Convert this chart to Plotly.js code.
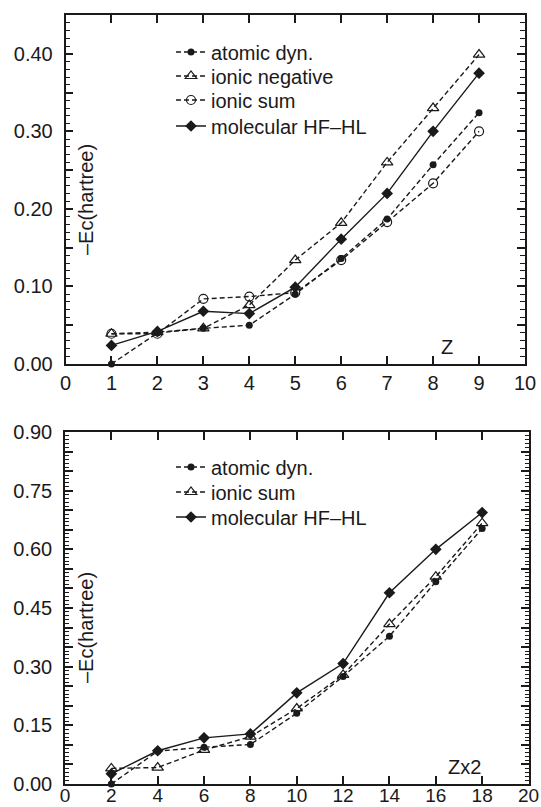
<!DOCTYPE html>
<html>
<head>
<meta charset="utf-8">
<script src="https://cdn.plot.ly/plotly-3.0.1.min.js"></script>
<style>
  html, body { margin: 0; padding: 0; background: #fff; }
  #chart { width: 541px; height: 807px; }
</style>
</head>
<body>
<div id="chart"></div>
<script>
// ---- Data: top panel (Z) ----
const zTop = [1, 2, 3, 4, 5, 6, 7, 8, 9];
const atomicTop = [0.000, 0.040, 0.046, 0.050, 0.090, 0.136, 0.187, 0.257, 0.324];
const ionicNegTop = [0.039, 0.041, 0.046, 0.076, 0.134, 0.182, 0.260, 0.330, 0.399];
const ionicSumTop = [0.039, 0.039, 0.084, 0.087, 0.092, 0.134, 0.183, 0.233, 0.300];
const molTop = [0.024, 0.042, 0.068, 0.065, 0.099, 0.161, 0.220, 0.300, 0.375];

// ---- Data: bottom panel (Zx2) ----
const zBot = [2, 4, 6, 8, 10, 12, 14, 16, 18];
const atomicBot = [0.000, 0.084, 0.094, 0.101, 0.181, 0.275, 0.378, 0.517, 0.653];
const ionicSumBot = [0.040, 0.042, 0.087, 0.121, 0.193, 0.279, 0.409, 0.530, 0.667];
const molBot = [0.026, 0.085, 0.118, 0.128, 0.233, 0.308, 0.489, 0.600, 0.694];

// ---- Labels ----
const namesTop = ["atomic dyn.", "ionic negative", "ionic sum", "molecular HF\u2013HL"];
const namesBot = ["atomic dyn.", "ionic sum", "molecular HF\u2013HL"];
const yTitle = "\u2013Ec(hartree)";
const topTickVals = [0, 0.05, 0.10, 0.15, 0.20, 0.25, 0.30, 0.35, 0.40, 0.45];
const topTickText = ["0.00", "", "0.10", "", "0.20", "", "0.30", "", "0.40", ""];
const botTickVals = [0, 0.05, 0.10, 0.15, 0.20, 0.25, 0.30, 0.35, 0.40, 0.45, 0.50, 0.55, 0.60, 0.65, 0.70, 0.75, 0.80, 0.85, 0.90];
const botTickText = ["0.00", "", "", "0.15", "", "", "0.30", "", "", "0.45", "", "", "0.60", "", "", "0.75", "", "", "0.90"];

const INK = "#1a1a1a";
const FONT = "Liberation Sans, Arial, Helvetica, sans-serif";
const DASH = "5px,3px";
const LW = 1.4;

function tr(x, y, name, marker, dash, xa, ya, legend) {
  return {
    type: "scatter", mode: "lines+markers", x: x, y: y, name: name,
    xaxis: xa, yaxis: ya, legend: legend,
    line: { color: INK, width: LW, dash: dash },
    marker: marker, cliponaxis: false
  };
}
const mFilledCircle = { symbol: "circle", size: 7, color: INK };
const mOpenTri = { symbol: "triangle-up-open", size: 10, color: INK, line: { width: 1.2, color: INK } };
const mOpenCircle = { symbol: "circle-open", size: 9, color: INK, line: { width: 1.2, color: INK } };
const mDiamond = { symbol: "diamond", size: 9, color: INK };

const data = [
  tr(zTop, ionicSumTop, namesTop[2], mOpenCircle, DASH, "x", "y", "legend3"),
  tr(zTop, ionicNegTop, namesTop[1], mOpenTri, DASH, "x", "y", "legend2"),
  tr(zTop, atomicTop, namesTop[0], mFilledCircle, DASH, "x", "y", "legend"),
  tr(zTop, molTop, namesTop[3], mDiamond, "solid", "x", "y", "legend4"),
  tr(zBot, ionicSumBot, namesBot[1], mOpenTri, DASH, "x2", "y2", "legend6"),
  tr(zBot, atomicBot, namesBot[0], mFilledCircle, DASH, "x2", "y2", "legend5"),
  tr(zBot, molBot, namesBot[2], mDiamond, "solid", "x2", "y2", "legend7")
];

const W = 541, H = 807;
const px = v => v / W;
const py = v => 1 - v / H;

function ax(extra) {
  return Object.assign({
    showline: true, linecolor: INK, linewidth: 1.5, mirror: "ticks",
    ticks: "inside", ticklen: 8, tickwidth: 1.6, tickcolor: INK,
    showgrid: false, zeroline: false,
    tickfont: { family: FONT, size: 20, color: INK }
  }, extra);
}

function legendAt(xpx, ypx) {
  return {
    x: px(xpx), y: py(ypx), xanchor: "left", yanchor: "middle",
    bgcolor: "rgba(0,0,0,0)", borderwidth: 0,
    font: { family: FONT, size: 20, color: INK }
  };
}

const layout = {
  width: W, height: H,
  margin: { l: 0, r: 0, t: 0, b: 0 },
  paper_bgcolor: "#fff", plot_bgcolor: "#fff",
  showlegend: true,
  xaxis: ax({
    domain: [px(65.5), px(525)], range: [0, 10], anchor: "y",
    tickmode: "linear", tick0: 0, dtick: 1
  }),
  yaxis: ax({
    domain: [py(364), py(15)], range: [0, 0.45], anchor: "x",
    tickmode: "array", tickvals: topTickVals, ticktext: topTickText,
    ticklabelstandoff: 7,
    minor: { tickmode: "linear", tick0: 0, dtick: 0.01, ticks: "inside", ticklen: 5, tickwidth: 1.2, tickcolor: INK }
  }),
  xaxis2: ax({
    domain: [px(65), px(528.5)], range: [0, 20], anchor: "y2",
    tickmode: "linear", tick0: 0, dtick: 2, ticklabelstandoff: -7,
    tickfont: { family: FONT, size: 19, color: INK }
  }),
  yaxis2: ax({
    domain: [py(784), py(432)], range: [0, 0.90], anchor: "x2",
    tickmode: "array", tickvals: botTickVals, ticktext: botTickText,
    ticklabelstandoff: 7,
    minor: { tickmode: "linear", tick0: 0, dtick: 0.01, ticks: "inside", ticklen: 4, tickwidth: 1.2, tickcolor: INK }
  }),
  legend: legendAt(171, 52),
  legend2: legendAt(171, 76),
  legend3: legendAt(171, 100),
  legend4: legendAt(171, 126),
  legend5: legendAt(171, 467),
  legend6: legendAt(171, 492),
  legend7: legendAt(171, 517),
  annotations: [
    { text: yTitle, xref: "paper", yref: "paper", x: px(86), y: py(200), textangle: -90,
      xanchor: "center", yanchor: "middle",
      showarrow: false, font: { family: FONT, size: 20, color: INK } },
    { text: yTitle, xref: "paper", yref: "paper", x: px(86), y: py(628), textangle: -90,
      xanchor: "center", yanchor: "middle",
      showarrow: false, font: { family: FONT, size: 20, color: INK } },
    { text: "Z", xref: "paper", yref: "paper", x: px(447), y: py(347),
      xanchor: "center", yanchor: "middle",
      showarrow: false, font: { family: FONT, size: 20, color: INK } },
    { text: "Zx2", xref: "paper", yref: "paper", x: px(464), y: py(767),
      xanchor: "center", yanchor: "middle",
      showarrow: false, font: { family: FONT, size: 20, color: INK } }
  ]
};

Plotly.newPlot("chart", data, layout, { displayModeBar: false });
</script>
</body>
</html>
